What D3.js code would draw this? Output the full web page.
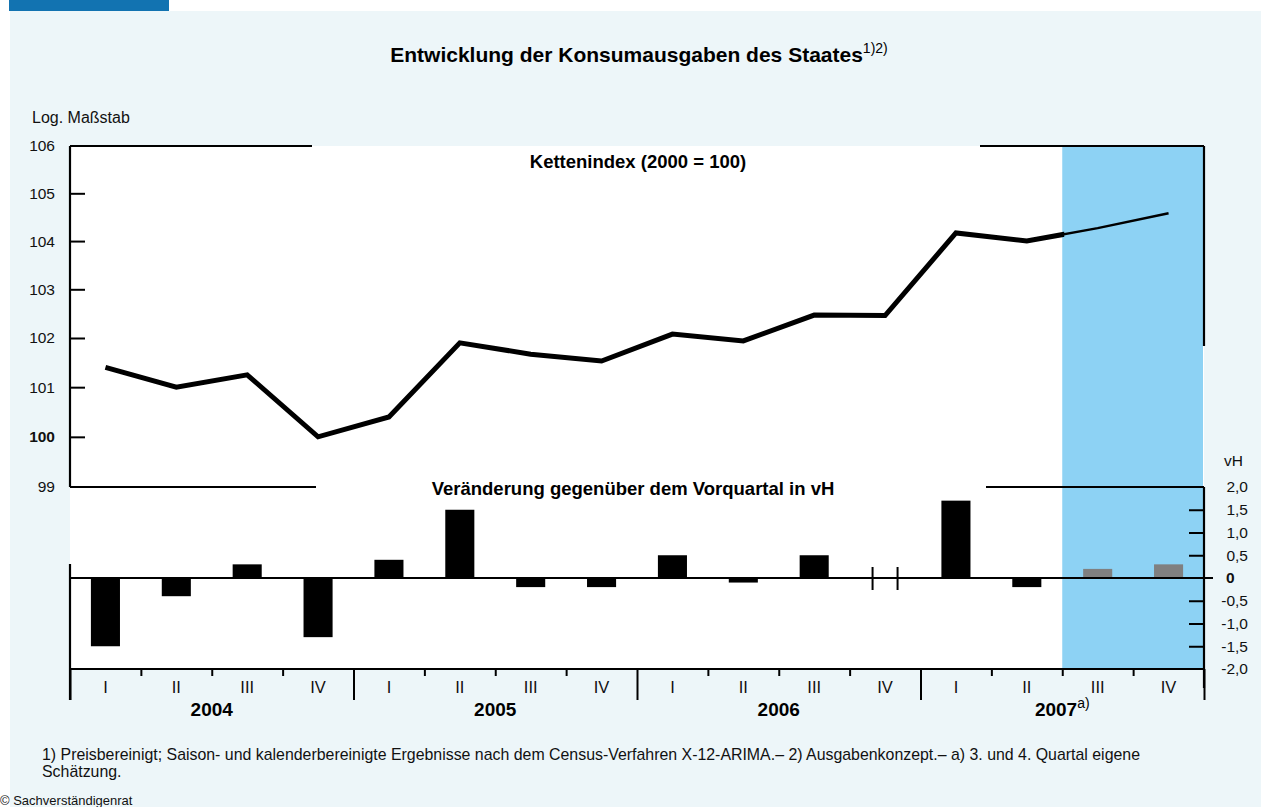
<!DOCTYPE html>
<html>
<head>
  <meta charset="UTF-8">
  <title>Entwicklung der Konsumausgaben des Staates</title>
  <script src="https://d3js.org/d3.v7.min.js"></script>
  <style>
    body { margin: 0; background: #fff; }
    svg { display: block; font-family: "Liberation Sans", Arial, Helvetica, sans-serif; }
    .frame { stroke: #000; stroke-width: 2.2; fill: none; }
    .axis text { font-size: 15.5px; fill: #111; }
    .axis line { stroke: #000; stroke-width: 2; }
    .axis path { display: none; }
    .head { font-weight: bold; font-size: 18.5px; fill: #000; }
  </style>
</head>
<body>
  <svg width="1261" height="807"></svg>

  <script>
    const years = ["2004", "2005", "2006", "2007"];
    const quarters = ["I", "II", "III", "IV"];
    // Kettenindex (2000 = 100), log scale
    const indexValues = [101.4, 101.0, 101.25, 100.0, 100.4, 101.9, 101.67, 101.53,
                         102.08, 101.94, 102.47, 102.46, 104.17, 104.0, 104.27, 104.58];
    // Veränderung gegenüber dem Vorquartal in vH
    const changeValues = [-1.5, -0.4, 0.3, -1.3, 0.4, 1.5, -0.2, -0.2,
                          0.5, -0.1, 0.5, 0.0, 1.7, -0.2, 0.2, 0.3];
    const firstEstimate = 14; // 2007 III and IV are own estimates
    const leftTicks = [99, 100, 101, 102, 103, 104, 105, 106];
    const rightTicks = [-2, -1.5, -1, -0.5, 0, 0.5, 1, 1.5, 2];

    const ids = [];
    years.forEach(y => quarters.forEach(q => ids.push(y + "-" + q)));

    const svg = d3.select("svg");
    const pLeft = 70, pRight = 1204, pTop = 146, pMid = 487, pBottom = 669;

    // background
    svg.append("rect").attr("x", 9).attr("y", 0).attr("width", 160).attr("height", 11).attr("fill", "#1273b1");
    svg.append("rect").attr("x", 10).attr("y", 11).attr("width", 1251).attr("height", 796).attr("fill", "#edf6f9");

    const xBand = d3.scaleBand().domain(ids).range([pLeft, pRight]);
    const xBar = d3.scaleBand().domain(ids).range([pLeft, pRight]).paddingInner(0.59).paddingOuter(0.295);
    const xq = d3.scaleLinear().domain([0, 16]).range([pLeft, pRight]);
    const yTop = d3.scaleLog().domain([99, 106]).range([pMid, pTop]);
    const yBot = d3.scaleLinear().domain([-2, 2]).range([pBottom, pMid]);

    // plot areas
    svg.append("rect").attr("x", pLeft).attr("y", pTop).attr("width", pRight - pLeft).attr("height", pBottom - pTop).attr("fill", "#fff");
    const estX = xBand(ids[firstEstimate]);
    svg.append("rect").attr("x", estX).attr("y", pTop).attr("width", pRight - 1 - estX).attr("height", pBottom - pTop).attr("fill", "#8dd2f4");

    // frame segments
    const frame = [
      [pLeft, pTop, 312, pTop], [980, pTop, pRight, pTop],
      [pLeft, pTop, pLeft, pMid], [pRight, pTop, pRight, 346],
      [pLeft, pMid, 316, pMid], [986, pMid, pRight, pMid],
      [pRight, pMid, pRight, 688], [pLeft, 564, pLeft, 700]
    ];
    svg.selectAll(".frame").data(frame).enter().append("line").attr("class", "frame")
      .attr("x1", d => d[0]).attr("y1", d => d[1]).attr("x2", d => d[2]).attr("y2", d => d[3]);

    // left axis
    const axL = svg.append("g").attr("class", "axis").attr("transform", `translate(${pLeft},0)`)
      .call(d3.axisLeft(yTop).tickValues(leftTicks).tickSize(-15).tickPadding(15).tickFormat(d3.format("d")));
    axL.selectAll(".tick").filter(d => d === 99 || d === 106).select("line").remove();
    axL.selectAll(".tick text").filter(d => d === 100).style("font-weight", "bold");

    // right axis
    const de = d3.formatLocale({ decimal: ",", thousands: ".", grouping: [3], currency: ["", "€"], minus: "-" });
    const fmt = de.format(".1f");
    const axR = svg.append("g").attr("class", "axis").attr("transform", `translate(${pRight},0)`)
      .call(d3.axisRight(yBot).tickValues(rightTicks).tickSize(-15).tickPadding(44).tickFormat(d => d === 0 ? "0" : fmt(d)));
    axR.selectAll(".tick text").attr("text-anchor", "end");
    axR.selectAll(".tick").filter(d => d === 0).select("text").attr("text-anchor", "start").attr("x", 22).style("font-weight", "bold");
    axR.selectAll(".tick").filter(d => d === 2 || d === -2 || d === 0).select("line").remove();

    // bottom axis: quarter and year separators
    const axB = svg.append("g").attr("class", "axis").attr("transform", `translate(0,${pBottom})`)
      .call(d3.axisBottom(xq).tickValues(d3.range(17)).tickSize(7).tickFormat(""));
    axB.selectAll(".tick").filter(d => d % 4 === 0).select("line").attr("y2", 31);
    svg.append("line").attr("class", "frame").attr("x1", pLeft).attr("x2", pRight).attr("y1", pBottom).attr("y2", pBottom);

    const axQ = svg.append("g").attr("class", "axis").attr("transform", `translate(0,${pBottom})`)
      .call(d3.axisBottom(xBand).tickSize(0).tickPadding(12).tickFormat(id => id.split("-")[1]));
    axQ.selectAll("text").style("font-size", "16.5px");

    const yearG = svg.append("g");
    years.forEach((y, i) => {
      const cx = (xq(i * 4) + xq(i * 4 + 4)) / 2;
      const t = yearG.append("text").attr("x", cx).attr("y", 716).attr("text-anchor", "middle")
        .attr("class", "head").style("font-size", "19px").text(y);
      if (i === 3) t.append("tspan").attr("dy", -8).style("font-size", "14px").style("font-weight", "normal").text("a)");
    });

    // bars
    svg.selectAll(".bar").data(changeValues).enter().append("rect").attr("class", "bar")
      .attr("x", (d, i) => xBar(ids[i]))
      .attr("width", xBar.bandwidth())
      .attr("y", d => yBot(Math.max(d, 0)))
      .attr("height", d => Math.abs(yBot(d) - yBot(0)))
      .attr("fill", (d, i) => i >= firstEstimate ? "#808080" : "#000");

    // zero line
    svg.append("line").attr("x1", pLeft).attr("x2", pRight + 9).attr("y1", yBot(0)).attr("y2", yBot(0))
      .attr("stroke", "#000").attr("stroke-width", 2.2);

    // break marks at 2006 IV
    const brk = xBand(ids[11]) + xBand.bandwidth() / 2;
    [-12.5, 12.5].forEach(o => svg.append("line")
      .attr("x1", brk + o).attr("x2", brk + o).attr("y1", yBot(0) - 11).attr("y2", yBot(0) + 12)
      .attr("stroke", "#000").attr("stroke-width", 2));

    // index line
    const pts = indexValues.map((v, i) => [xBand(ids[i]) + xBand.bandwidth() / 2, yTop(v)]);
    const line = d3.line();
    svg.append("clipPath").attr("id", "actual").append("rect")
      .attr("x", 0).attr("y", 0).attr("width", estX + 2).attr("height", 807);
    svg.append("path").attr("d", line(pts.slice(firstEstimate - 1)))
      .attr("fill", "none").attr("stroke", "#000").attr("stroke-width", 2.5);
    svg.append("path").attr("d", line(pts.slice(0, firstEstimate + 1)))
      .attr("clip-path", "url(#actual)")
      .attr("fill", "none").attr("stroke", "#000").attr("stroke-width", 5).attr("stroke-linejoin", "miter");

    // texts
    const title = svg.append("text").attr("x", 639).attr("y", 62).attr("text-anchor", "middle")
      .attr("class", "head").style("font-size", "21px").text("Entwicklung der Konsumausgaben des Staates");
    title.append("tspan").attr("dy", -9).style("font-size", "14px").style("font-weight", "normal").text("1)2)");

    svg.append("text").attr("x", 32).attr("y", 123).style("font-size", "16px").attr("fill", "#111").text("Log. Maßstab");
    svg.append("text").attr("x", 1224).attr("y", 466).style("font-size", "15.5px").attr("fill", "#111").text("vH");

    svg.append("text").attr("x", 638).attr("y", 168).attr("text-anchor", "middle").attr("class", "head")
      .text("Kettenindex (2000 = 100)");
    svg.append("text").attr("x", 633).attr("y", 495).attr("text-anchor", "middle").attr("class", "head")
      .text("Veränderung gegenüber dem Vorquartal in vH");

    const notes = [
      "1) Preisbereinigt; Saison- und kalenderbereinigte Ergebnisse nach dem Census-Verfahren X-12-ARIMA.– 2) Ausgabenkonzept.– a) 3. und 4. Quartal eigene",
      "Schätzung."
    ];
    notes.forEach((n, i) => svg.append("text").attr("x", 42).attr("y", 760 + i * 17)
      .style("font-size", "15.9px").attr("fill", "#111").text(n));
    svg.append("text").attr("x", 0).attr("y", 805).style("font-size", "13px").attr("fill", "#111").text("© Sachverständigenrat");
  </script>
</body>
</html>
